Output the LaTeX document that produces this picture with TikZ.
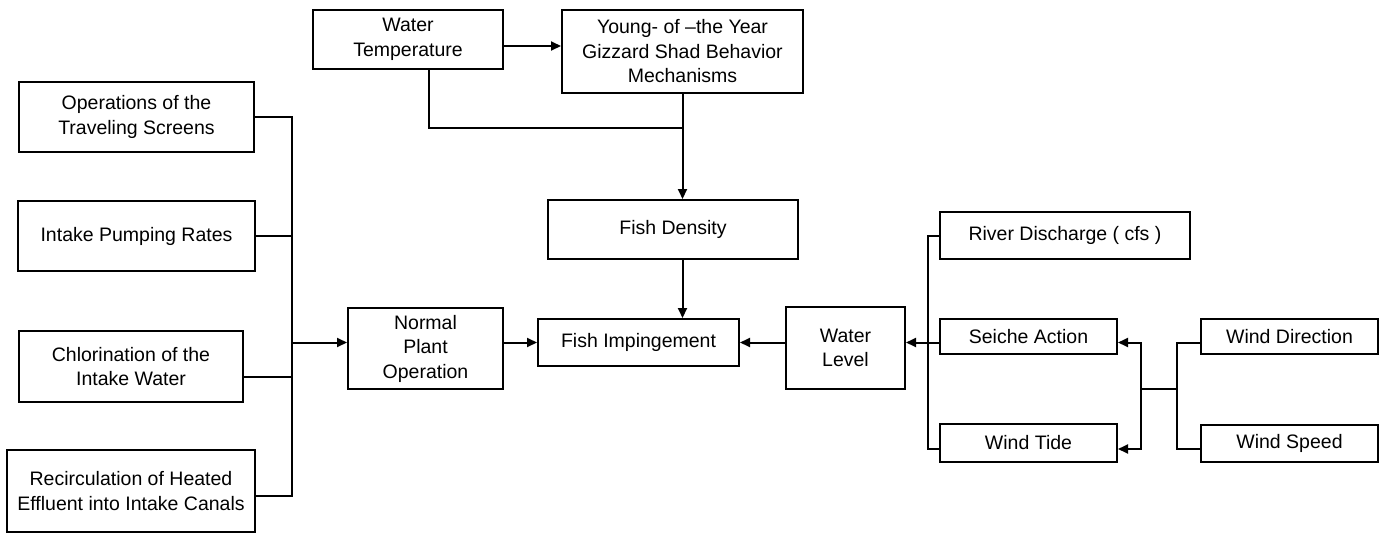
\documentclass[tikz,border=0pt]{standalone}
\usepackage{fontspec}
\setmainfont{Liberation Sans}
\usetikzlibrary{arrows.meta}
\begin{document}
\begin{tikzpicture}[x=1pt,y=-1pt,
  box/.style={draw, line width=2pt, rectangle, align=center, inner sep=0pt,
    font=\fontsize{19.5}{24.5}\selectfont},
  conn/.style={line width=2pt},
  arr/.style={conn, -{Triangle[length=10pt,width=9pt]}},
  darr/.style={conn, {Triangle[length=10pt,width=9pt]}-{Triangle[length=10pt,width=9pt]}}]
\useasboundingbox (0,0) rectangle (1387,533);
% boxes
\node[box, minimum width=190pt, minimum height=59pt] (wt) at (408,39.5) {Water\\Temperature};
\node[box, minimum width=241pt, minimum height=83pt] (young) at (682.5,51.5) {Young- of –the Year\\Gizzard Shad Behavior\\Mechanisms};
\node[box, minimum width=235pt, minimum height=70pt] (ops) at (136.5,117) {Operations of the\\Traveling Screens};
\node[box, minimum width=237pt, minimum height=70pt] (intake) at (136.5,236) {Intake Pumping Rates};
\node[box, minimum width=224pt, minimum height=71pt] (chlor) at (131,366.5) {Chlorination of the\\Intake Water};
\node[box, minimum width=248pt, minimum height=82pt] (recirc) at (131,491) {Recirculation of Heated\\Effluent into Intake Canals};
\node[box, minimum width=155pt, minimum height=81pt] (npo) at (425.5,348.5) {Normal\\Plant\\Operation};
\node[box, minimum width=201pt, minimum height=47pt] (fimp) at (638.5,342.5) {Fish Impingement};
\node[box, minimum width=250pt, minimum height=59pt] (fden) at (673,229.5) {Fish Density};
\node[box, minimum width=119pt, minimum height=82pt] (wl) at (845.5,348) {Water\\Level};
\node[box, minimum width=250pt, minimum height=47pt] (river) at (1065,235.5) {River Discharge ( cfs )};
\node[box, minimum width=177pt, minimum height=35pt] (seiche) at (1028.5,336.5) {Seiche Action};
\node[box, minimum width=177pt, minimum height=38pt] (tide) at (1028.5,443) {Wind Tide};
\node[box, minimum width=177pt, minimum height=35pt] (wdir) at (1289.5,336.5) {Wind Direction};
\node[box, minimum width=177pt, minimum height=37pt] (wspd) at (1289.5,443.5) {Wind Speed};
% junction coordinates
\coordinate (jt) at (682.5,128);
\coordinate (bl) at (292,496);
\coordinate (bm) at (928,449);
\coordinate (br) at (1141,449);
\coordinate (brm) at (1141,389);
\coordinate (bwm) at (1177,389);
\coordinate (bw) at (1177,449);
% top part
\draw[arr] ([yshift=-6.5pt]wt.east) -- ([yshift=-6.5pt]wt.east -| young.west);
\draw[conn] ([xshift=21pt]wt.south) |- (jt);
\draw[arr] (young.south) -- (young.south |- fden.north);
\draw[arr] (young.south |- fden.south) -- (young.south |- fimp.north);
% left bus
\draw[conn] (ops.east) -| (bl) -- ([yshift=-5pt]recirc.east);
\draw[conn] (intake.east) -- (intake.east -| bl);
\draw[conn] ([yshift=-10.5pt]chlor.east) -- ([yshift=-10.5pt]chlor.east -| bl);
\draw[arr] (bl |- fimp.west) -- (npo.west |- fimp.west);
\draw[arr] (npo.east |- fimp.west) -- (fimp.west);
% right side
\draw[arr] (wl.west |- fimp.east) -- (fimp.east);
\draw[conn] (river.west) -| (bm) -- ([yshift=-6pt]tide.west);
\draw[arr] ([yshift=-6pt]seiche.west) -- ([yshift=-6pt]seiche.west -| wl.east);
\draw[darr] ([yshift=-6pt]seiche.east) -| (br) -- ([yshift=-6pt]tide.east);
\draw[conn] (brm) -- (bwm);
\draw[conn] ([yshift=-6pt]wdir.west) -| (bw) -- ([yshift=-5.5pt]wspd.west);
\end{tikzpicture}
\end{document}
